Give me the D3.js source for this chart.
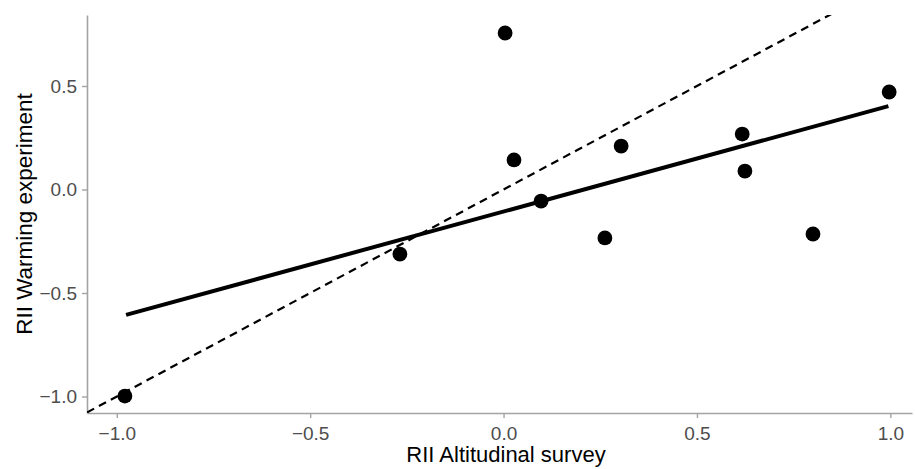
<!DOCTYPE html>
<html>
<head>
<meta charset="utf-8">
<script src="https://cdn.jsdelivr.net/npm/d3@7"></script>
<style>
  body { margin: 0; background: #fff; }
  svg { display: block; font-family: "Liberation Sans", Arial, sans-serif; }
</style>
</head>
<body>
<svg id="chart"></svg>
<script>
// values
const altitudinal = [-0.979, -0.268, 0.004, 0.027, 0.097, 0.262, 0.304, 0.617, 0.624, 0.800, 0.997]
const warming = [-0.998, -0.312, 0.756, 0.143, -0.056, -0.234, 0.210, 0.268, 0.089, -0.215, 0.471]
// fitted line ends (as drawn) and the 1:1 reference line
const fitX = [-0.976, 0.995]
const fitY = [-0.606, 0.403]
const oneToOne = [-1.2, 1.2]
const xTicks = [-1.0, -0.5, 0.0, 0.5, 1.0]
const yTicks = [-1.0, -0.5, 0.0, 0.5]

const width = 915, height = 469
const margin = { top: 15, right: 3, bottom: 56, left: 87 }
const innerW = width - margin.left - margin.right
const innerH = height - margin.top - margin.bottom

const svg = d3.select("#chart")
    .attr("width", width)
    .attr("height", height)

const x = d3.scaleLinear().domain([-1.077, 1.056]).range([0, innerW])
const y = d3.scaleLinear().domain([-1.0797, 0.843]).range([innerH, 0])

const g = svg.append("g")
    .attr("transform", `translate(${margin.left},${margin.top})`)

g.append("clipPath").attr("id", "panel")
    .append("rect").attr("width", innerW).attr("height", innerH)

const fmt = d3.format(".1f")

// axes
const xAxis = g.append("g")
    .attr("transform", `translate(0,${innerH})`)
    .call(d3.axisBottom(x).tickValues(xTicks).tickFormat(fmt).tickSize(5).tickSizeOuter(0))
const yAxis = g.append("g")
    .call(d3.axisLeft(y).tickValues(yTicks).tickFormat(fmt).tickSize(5).tickSizeOuter(0))

;[xAxis, yAxis].forEach(ax => {
    ax.select(".domain").attr("stroke", "#a3a3a3").attr("stroke-width", 1.6)
    ax.selectAll(".tick line").attr("stroke", "#a3a3a3").attr("stroke-width", 1.4)
    ax.selectAll(".tick text")
        .attr("fill", "#4d4d4d")
        .style("font-size", "19px")
        .style("font-family", '"Liberation Sans", Arial, sans-serif')
})
xAxis.selectAll(".tick text").attr("dy", "1.0em")
yAxis.selectAll(".tick text").attr("x", -10)

// 1:1 dashed line
const line = d3.line().x(d => x(d[0])).y(d => y(d[1]))
g.append("path")
    .datum(oneToOne.map(v => [v, v]))
    .attr("clip-path", "url(#panel)")
    .attr("d", line)
    .attr("fill", "none")
    .attr("stroke", "#000")
    .attr("stroke-width", 2.2)
    .attr("stroke-dasharray", "8,5.5")

// regression line
g.append("path")
    .datum(fitX.map((v, i) => [v, fitY[i]]))
    .attr("d", line)
    .attr("fill", "none")
    .attr("stroke", "#000")
    .attr("stroke-width", 4)

// points
g.append("g")
    .selectAll("circle")
    .data(altitudinal.map((v, i) => ({ x: v, y: warming[i] })))
    .enter().append("circle")
    .attr("cx", d => x(d.x))
    .attr("cy", d => y(d.y))
    .attr("r", 7.4)
    .attr("fill", "#000")

// axis titles
svg.append("text")
    .attr("x", 506)
    .attr("y", 462)
    .attr("text-anchor", "middle")
    .style("font-size", "22px")
    .attr("fill", "#000")
    .text("RII Altitudinal survey")

svg.append("text")
    .attr("transform", `translate(32,${margin.top + innerH / 2}) rotate(-90)`)
    .attr("text-anchor", "middle")
    .style("font-size", "22.5px")
    .attr("fill", "#000")
    .text("RII Warming experiment")
</script>
</body>
</html>
